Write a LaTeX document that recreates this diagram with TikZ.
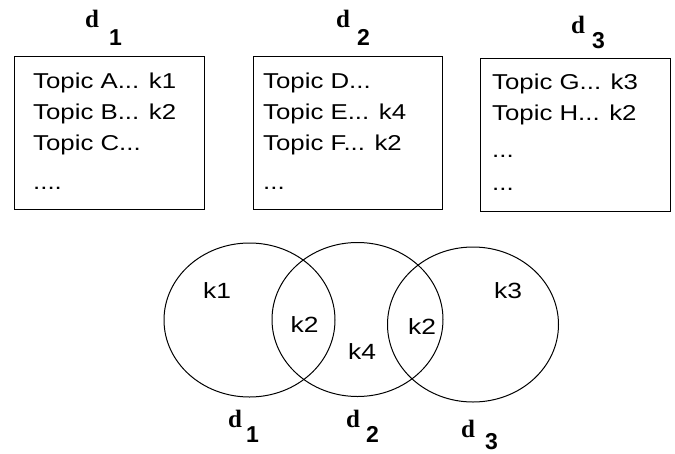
\documentclass[tikz,border=0pt]{standalone}
\usepackage{fontspec}
\usetikzlibrary{shapes.geometric}
\newfontfamily\boxfont[FakeStretch=1.2]{Liberation Sans}
\newfontfamily\kfont[FakeStretch=1.2]{Liberation Sans}
\newfontfamily\dfont{Liberation Serif}
\newfontfamily\subfont{Liberation Sans}
\tikzset{
  docbox/.style={draw, line width=1.1pt, rectangle, inner sep=0pt, anchor=north west},
  line/.style={anchor=base west, inner sep=0pt, font=\boxfont\fontsize{21.5}{24}\selectfont},
  kset/.style={draw, line width=1pt, ellipse, inner sep=0pt, minimum width=171pt, minimum height=154pt},
  klab/.style={inner sep=0pt, font=\kfont\fontsize{22}{24}\selectfont},
  dlab/.style={anchor=base west, inner sep=0pt, font=\dfont\bfseries\fontsize{25}{26}\selectfont},
  dsub/.style={anchor=base west, inner sep=0pt, font=\subfont\bfseries\fontsize{23}{25}\selectfont}
}
\begin{document}
\begin{tikzpicture}[x=1pt,y=-1pt]
\useasboundingbox (0,0) rectangle (675,453);
% boxes
\node[docbox, minimum width=190pt, minimum height=153pt] (b1) at (14,56) {};
\node[docbox, minimum width=189pt, minimum height=153pt] (b2) at (253,56) {};
\node[docbox, minimum width=190pt, minimum height=153pt] (b3) at (480,58) {};
% box texts
\node[line] (a1) at (33,88) {Topic A... k1};
\node[line] (a2) at (33,119) {Topic B... k2};
\node[line] (a3) at (33,150) {Topic C...};
\node[line] (a4) at (33,189) {....};
\node[line] (e1) at (263,88) {Topic D...};
\node[line] (e2) at (263,119) {Topic E... k4};
\node[line] (e3) at (263,150) {Topic F... k2};
\node[line] (e4) at (263,189) {...};
\node[line] (g1) at (492,89) {Topic G... k3};
\node[line] (g2) at (492,120) {Topic H... k2};
\node[line] (g3) at (492,157) {...};
\node[line] (g4) at (492,190) {...};
% top labels
\node[dlab] (td1) at (85,27.5) {d};
\node[dsub] (ts1) at (109,45) {1};
\node[dlab] (td2) at (336,27.5) {d};
\node[dsub] (ts2) at (357,45) {2};
\node[dlab] (td3) at (571,33) {d};
\node[dsub] (ts3) at (592,48) {3};
% sets
\node[kset] (c1) at (249.5,320) {};
\node[kset] (c2) at (357.5,319.5) {};
\node[kset, minimum height=155pt] (c3) at (473,324.5) {};
% set labels
\node[klab] (k1) at (217,291) {k1};
\node[klab] (k2a) at (304.5,325) {k2};
\node[klab] (k4) at (362,352) {k4};
\node[klab] (k2b) at (422,327) {k2};
\node[klab] (k3) at (508,291) {k3};
% bottom labels
\node[dlab] (bd1) at (228,427) {d};
\node[dsub] (bs1) at (246,442) {1};
\node[dlab] (bd2) at (346,427) {d};
\node[dsub] (bs2) at (366,442) {2};
\node[dlab] (bd3) at (461,437) {d};
\node[dsub] (bs3) at (485,449) {3};
\end{tikzpicture}
\end{document}
